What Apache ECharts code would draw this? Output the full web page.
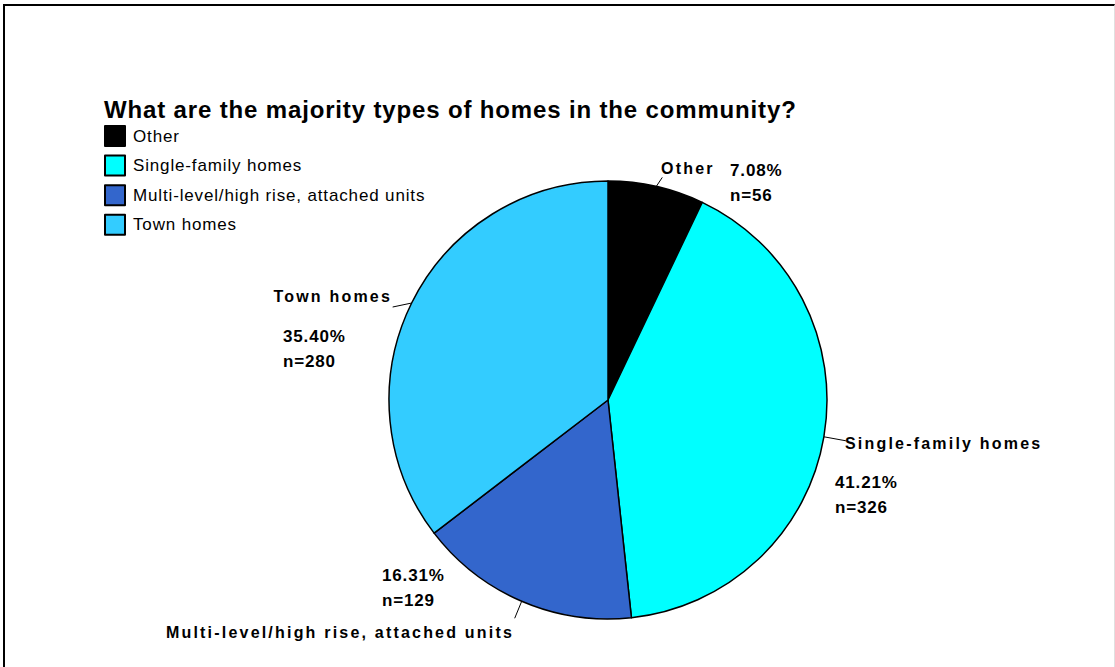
<!DOCTYPE html>
<html>
<head>
<meta charset="utf-8">
<script src="https://cdn.jsdelivr.net/npm/echarts@6/dist/echarts.min.js"></script>
<style>
  html, body { margin: 0; padding: 0; background: #fff; }
  #frame {
    position: absolute; left: 3px; top: 4px; width: 1109px; height: 663px;
    border-top: 2px solid #000; border-left: 2px solid #000; border-right: 1px solid #e0e0e0;
  }
  #chart { position: absolute; left: 0; top: 0; width: 1115px; height: 667px; }
  /* 模仿原图的字间距 */
  #chart text[style*="24px"] { letter-spacing: 0.85px; }
  #chart text[style*="17px"] { letter-spacing: 0.85px; }
  #chart text[style*="bold 17px"] { letter-spacing: 1.4px; }
  #chart text[style*="16px"] { letter-spacing: 2.2px; }
</style>
</head>
<body>
<div id="frame"></div>
<div id="chart"></div>
<script>
  // 数据
  const categories = ['Other', 'Single-family homes', 'Multi-level/high rise, attached units', 'Town homes'];
  const counts = [56, 326, 129, 280];
  const colorList = ['#000000', '#00ffff', '#3366cc', '#33ccff'];

  // 标签位置（名称 / 百分比），引导线终点相对于扇区边缘的偏移
  const nameLabelPos = [
    {x: 661, y: 168, align: 'left'},
    {x: 845, y: 443, align: 'left'},
    {x: 340, y: 632, align: 'center'},
    {x: 392, y: 296, align: 'right'}
  ];
  const leaderOffset = [[6, -9], [22, 4], [-7, 17], [-19, 4]];
  const pctLabelPos = [
    {x: 730, y: 183},
    {x: 835, y: 495},
    {x: 382, y: 588},
    {x: 283, y: 349}
  ];

  const fontFam = '"Liberation Sans", Arial, sans-serif';
  const pieData = categories.map((name, i) => ({
    name: name,
    value: counts[i],
    itemStyle: { color: colorList[i] }
  }));

  const chart = echarts.init(document.getElementById('chart'), null, { renderer: 'svg' });
  chart.setOption({
    animation: false,
    title: {
      text: 'What are the majority types of homes in the community?',
      left: 104,
      top: 97,
      padding: 0,
      textStyle: { fontFamily: fontFam, fontSize: 24, fontWeight: 'bold', color: '#000' }
    },
    legend: {
      orient: 'vertical',
      left: 104,
      top: 125,
      padding: 0,
      itemWidth: 20,
      itemHeight: 20,
      itemGap: 7.6,
      icon: 'rect',
      selectedMode: false,
      itemStyle: { borderColor: '#000', borderWidth: 2 },
      textStyle: { fontFamily: fontFam, fontSize: 17, color: '#000', padding: [0, 0, 0, 3] },
      data: categories
    },
    series: [
      {
        name: 'types',
        type: 'pie',
        center: [608, 400],
        radius: 219,
        startAngle: 90,
        clockwise: true,
        itemStyle: { borderColor: '#000', borderWidth: 1.5 },
        emphasis: { disabled: true },
        label: {
          show: true,
          position: 'outside',
          formatter: '{b}',
          fontFamily: fontFam,
          fontSize: 16,
          fontWeight: 'bold',
          color: '#000'
        },
        labelLine: {
          show: true,
          length: 8,
          length2: 8,
          lineStyle: { color: '#000', width: 1 }
        },
        labelLayout: function (params) {
          const i = params.dataIndex;
          const p = nameLabelPos[i];
          const start = params.labelLinePoints[0];
          const end = [start[0] + leaderOffset[i][0], start[1] + leaderOffset[i][1]];
          return {
            x: p.x, y: p.y, align: p.align, verticalAlign: 'middle',
            labelLinePoints: [start, end, end]
          };
        },
        data: pieData
      },
      {
        name: 'pct',
        type: 'pie',
        center: [608, 400],
        radius: 219,
        startAngle: 90,
        clockwise: true,
        silent: true,
        itemStyle: { color: 'transparent', borderWidth: 0 },
        label: {
          show: true,
          position: 'outside',
          formatter: function (p) {
            return p.percent.toFixed(2) + '%\nn=' + p.value;
          },
          fontFamily: fontFam,
          fontSize: 17,
          fontWeight: 'bold',
          lineHeight: 25,
          color: '#000'
        },
        labelLine: { show: false },
        labelLayout: function (params) {
          const p = pctLabelPos[params.dataIndex];
          return { x: p.x, y: p.y, align: 'left', verticalAlign: 'middle' };
        },
        data: pieData.map(d => ({ name: d.name, value: d.value }))
      }
    ]
  });
</script>
</body>
</html>
